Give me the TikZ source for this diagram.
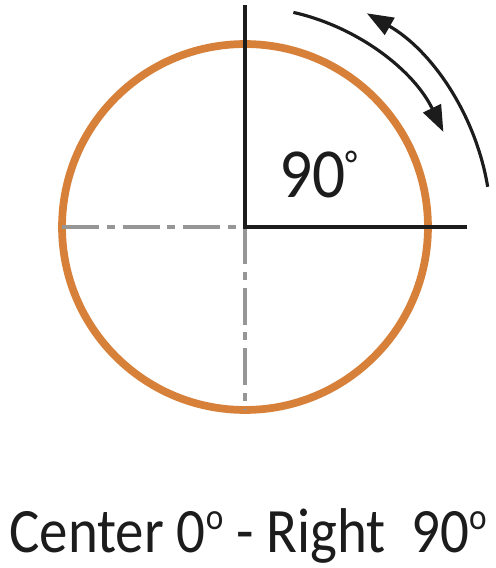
\documentclass[tikz,border=0pt]{standalone}
\usepackage{fontspec}
\setmainfont{Carlito}
\usetikzlibrary{arrows.meta}
\definecolor{ringorange}{RGB}{214,128,58}
\definecolor{axisgray}{RGB}{150,150,150}
\definecolor{inkblack}{RGB}{28,28,28}
\newcommand{\smalldeg}{\raisebox{11pt}{\fontsize{22}{22}\selectfont °}}
\newcommand{\ringdeg}{\raisebox{13pt}{\fontsize{21}{21}\selectfont o}}
\tikzstyle{ring} = [circle, draw=ringorange, line width=4.4pt, minimum size=7.32cm, inner sep=0pt]
\tikzstyle{axis} = [draw=inkblack, line width=2.4pt]
\tikzstyle{centerline} = [draw=axisgray, line width=2pt, dash pattern=on 21pt off 4.5pt on 4.5pt off 4.5pt]
\tikzstyle{sweep} = [draw=inkblack, line width=1.8pt]
\tikzstyle{anglelabel} = [inner sep=0pt, text=inkblack, font=\fontsize{40}{40}\selectfont]
\tikzstyle{caption} = [inner sep=0pt, text=inkblack, font=\fontsize{36}{36}\selectfont]

\begin{document}
\begin{tikzpicture}[x=0.02cm, y=-0.02cm, >={Triangle[length=15pt, width=11pt]}]
\useasboundingbox (0,0) rectangle (496,568);

% Define nodes
\coordinate (o)      at (245,227);
\coordinate (vtop)   at (245,5);
\coordinate (hright) at (467,227);
\coordinate (hleft)  at (62,227);
\coordinate (vbot)   at (245,410);
\path (o) ++(-77.3:220) coordinate (cwstart);
\path (o) ++(-60.3:246) coordinate (ccwtip);

\node[ring] (circ) at (o) {};
\node[anglelabel, anchor=base west] (deg) at (279,197) {\scalebox{0.93}[1]{90\smalldeg}};
\node[caption, anchor=base] (cap) at (248,552) {\scalebox{0.9}[1]{Center 0\ringdeg\ - Right\ \ 90\ringdeg}};

% Edges
\draw[centerline] (hleft) -- (o);
\draw[centerline] (o) -- (vbot);
\draw[axis] (vtop) -- (o) -- (hright);
\draw[sweep, ->] (cwstart) arc[start angle=-77.3, end angle=-25.6, radius=220];
\draw[sweep, <-] (ccwtip) arc[start angle=-60.3, end angle=-9.4, radius=246];
\end{tikzpicture}
\end{document}
